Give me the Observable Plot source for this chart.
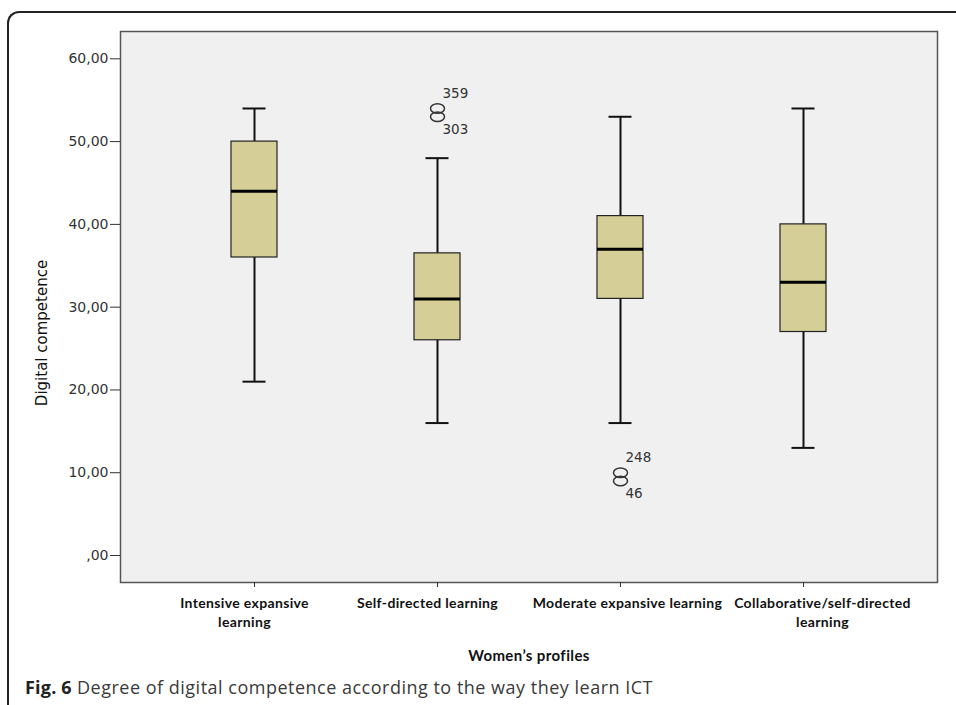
<!DOCTYPE html>
<html><head><meta charset="utf-8">
<script src="https://cdn.jsdelivr.net/npm/d3@7"></script>
<script src="https://cdn.jsdelivr.net/npm/@observablehq/plot@0.6"></script>
<style>
body{margin:0;background:#fff;}
#wrap{position:relative;width:956px;height:705px;overflow:hidden;}
#frame{position:absolute;left:7px;top:11px;width:1000px;height:800px;border-top:2px solid #222;border-left:2px solid #222;border-top-left-radius:12px;}
#chart{position:absolute;left:0;top:0;}
#caption{position:absolute;left:25px;top:675px;font-family:"Open Sans";font-size:18px;letter-spacing:0.5px;color:#3a3a3a;white-space:nowrap;}
#caption b{color:#222;letter-spacing:0.2px;}
g[aria-label="x-axis tick label"]{letter-spacing:0.35px;}
g[aria-label="x-axis label"]{font-size:15px;letter-spacing:0.4px;}
</style></head>
<body><div id="wrap"><div id="frame"></div><div id="chart"></div><div id="caption"><b>Fig. 6</b> Degree of digital competence according to the way they learn ICT</div></div>
<script>
const profiles = ["Intensive expansive learning","Self-directed learning","Moderate expansive learning","Collaborative/self-directed learning"];
const tickLabels = ["Intensive expansive\nlearning","Self-directed learning","Moderate expansive learning","Collaborative/self-directed\nlearning"];
const whiskerLow = [21,16,16,13];
const q1 = [36,26,31,27];
const median = [44,31,37,33];
const q3 = [50,36.5,41,40];
const whiskerHigh = [54,48,53,54];
const outlierProfiles = ["Self-directed learning","Self-directed learning","Moderate expansive learning","Moderate expansive learning"];
const outlierValues = [54,53,10,9];
const outlierIds = ["359","303","248","46"];
const yTicks = [0,10,20,30,40,50,60];

const boxes = profiles.map((p,i)=>({p, lo:whiskerLow[i], q1:q1[i], med:median[i], q3:q3[i], hi:whiskerHigh[i]}));
const outliers = outlierValues.map((v,i)=>({p:outlierProfiles[i], v, id:outlierIds[i], upper: i%2===0}));
const fmt = d => d===0 ? ",00" : d.toFixed(2).replace(".", ",");
const xLabel = d => tickLabels[profiles.indexOf(d)];

// ellipse symbol (SPSS outlier circles appear slightly wide)
const ellipse = {
  draw(ctx, size) {
    const r = Math.sqrt(size / Math.PI), rx = r * 1.4, ry = r * 0.95, k = 0.5523;
    ctx.moveTo(rx, 0);
    ctx.bezierCurveTo(rx, ry*k, rx*k, ry, 0, ry);
    ctx.bezierCurveTo(-rx*k, ry, -rx, ry*k, -rx, 0);
    ctx.bezierCurveTo(-rx, -ry*k, -rx*k, -ry, 0, -ry);
    ctx.bezierCurveTo(rx*k, -ry, rx, -ry*k, rx, 0);
    ctx.closePath();
  }
};

const xLabelStyle = {tickSize:0, tickPadding:13, fontSize:14, fontWeight:"bold", fontFamily:"Lato", lineHeight:1.3, fill:"#111", label:null, tickFormat:xLabel};

const chart = Plot.plot({
  width:956, height:670,
  marginLeft:120, marginRight:19, marginTop:31, marginBottom:88,
  style:{fontFamily:"DejaVu Sans", color:"#333", background:"transparent", overflow:"visible"},
  x:{type:"band", domain:profiles, paddingInner:0.75, paddingOuter:0.598},
  y:{domain:[-3.26,63.3]},
  marks:[
    Plot.frame({fill:"#f0f0f0", stroke:"#555", strokeWidth:1.5}),
    Plot.axisY({ticks:yTicks, tickFormat:fmt, tickSize:10, tickPadding:2, fontSize:14, label:null}),
    Plot.text(["Digital competence"],{frameAnchor:"left", text:d=>d, rotate:-90, textAnchor:"middle", dx:-78, dy:26, fontSize:15, fill:"#111"}),
    Plot.axisX({tickSize:5, tickFormat:null, label:"Women’s profiles", labelAnchor:"center", labelArrow:"none", labelOffset:78, fontWeight:"bold", fontFamily:"Lato", fill:"#111"}),
    Plot.axisX({...xLabelStyle, ticks:profiles.slice(0,2), dx:-10}),
    Plot.axisX({...xLabelStyle, ticks:profiles.slice(2,3), dx:7}),
    Plot.axisX({...xLabelStyle, ticks:profiles.slice(3,4), dx:19}),
    Plot.ruleX(boxes,{x:"p", y1:"lo", y2:"hi", stroke:"#111", strokeWidth:2}),
    Plot.tickY(boxes,{x:"p", y:"lo", insetLeft:11.5, insetRight:11.5, stroke:"#111", strokeWidth:2}),
    Plot.tickY(boxes,{x:"p", y:"hi", insetLeft:11.5, insetRight:11.5, stroke:"#111", strokeWidth:2}),
    Plot.barY(boxes,{x:"p", y1:"q1", y2:"q3", fill:"#d5cf97", stroke:"#222", strokeWidth:1.2}),
    Plot.tickY(boxes,{x:"p", y:"med", stroke:"#000", strokeWidth:3}),
    Plot.dot(outliers,{x:"p", y:"v", r:5, symbol:ellipse, stroke:"#333", strokeWidth:1.5, fill:"none"}),
    Plot.text(outliers.filter(d=>d.upper),{x:"p", y:"v", text:"id", dx:5, dy:-15, textAnchor:"start", fontSize:13.5, fill:"#333"}),
    Plot.text(outliers.filter(d=>!d.upper),{x:"p", y:"v", text:"id", dx:5, dy:13, textAnchor:"start", fontSize:13.5, fill:"#333"})
  ]
});
document.getElementById("chart").appendChild(chart);
</script>
</body></html>
